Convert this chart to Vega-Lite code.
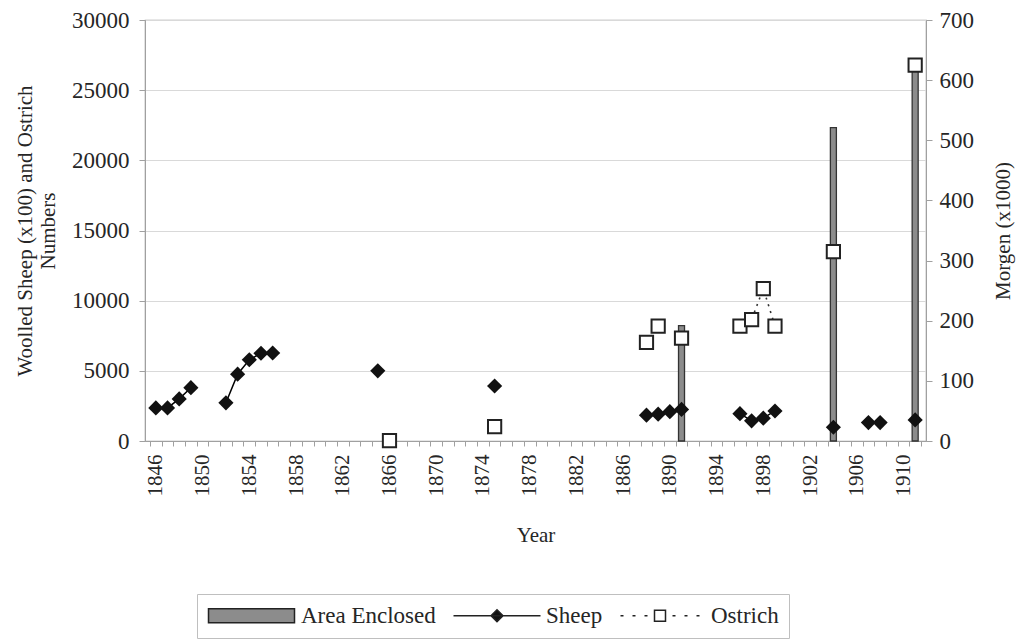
{
  "$schema": "https://vega.github.io/schema/vega-lite/v6.json",
  "width": 781,
  "height": 421,
  "autosize": {"type": "none"},
  "padding": {"left": 145, "top": 20, "right": 96, "bottom": 199},
  "background": "white",
  "config": {
    "font": "Liberation Serif",
    "view": {"stroke": "#a0a0a0", "strokeWidth": 1.2},
    "axis": {
      "labelFont": "Liberation Serif",
      "titleFont": "Liberation Serif",
      "labelFontSize": 21,
      "titleFontSize": 21,
      "labelColor": "#262626",
      "titleColor": "#262626",
      "titleFontWeight": "normal",
      "domainColor": "#a0a0a0",
      "tickColor": "#a0a0a0",
      "tickSize": 6,
      "gridColor": "#d9d9d9"
    }
  },
  "datasets": {
    "area": [
      {"year": 1891, "value": 192, "series": "Area Enclosed"},
      {"year": 1904, "value": 521, "series": "Area Enclosed"},
      {"year": 1911, "value": 630, "series": "Area Enclosed"}
    ],
    "sheep": [
      {"year": 1846, "value": 2360, "seg": "a"},
      {"year": 1847, "value": 2360, "seg": "a"},
      {"year": 1848, "value": 3000, "seg": "a"},
      {"year": 1849, "value": 3800, "seg": "a"},
      {"year": 1852, "value": 2720, "seg": "b"},
      {"year": 1853, "value": 4760, "seg": "b"},
      {"year": 1854, "value": 5790, "seg": "b"},
      {"year": 1855, "value": 6250, "seg": "b"},
      {"year": 1856, "value": 6270, "seg": "b"},
      {"year": 1865, "value": 5000, "seg": "c"},
      {"year": 1875, "value": 3920, "seg": "d"},
      {"year": 1888, "value": 1840, "seg": "e"},
      {"year": 1889, "value": 1910, "seg": "e"},
      {"year": 1890, "value": 2090, "seg": "e"},
      {"year": 1891, "value": 2250, "seg": "e"},
      {"year": 1896, "value": 1950, "seg": "f"},
      {"year": 1897, "value": 1440, "seg": "f"},
      {"year": 1898, "value": 1630, "seg": "f"},
      {"year": 1899, "value": 2140, "seg": "f"},
      {"year": 1904, "value": 980, "seg": "g"},
      {"year": 1907, "value": 1310, "seg": "h"},
      {"year": 1908, "value": 1310, "seg": "h"},
      {"year": 1911, "value": 1500, "seg": "i"}
    ],
    "ostrich": [
      {"year": 1866, "value": 30, "seg": "a"},
      {"year": 1875, "value": 1030, "seg": "b"},
      {"year": 1888, "value": 7020, "seg": "c"},
      {"year": 1889, "value": 8190, "seg": "c"},
      {"year": 1891, "value": 7330, "seg": "d"},
      {"year": 1896, "value": 8190, "seg": "e"},
      {"year": 1897, "value": 8650, "seg": "e"},
      {"year": 1898, "value": 10860, "seg": "e"},
      {"year": 1899, "value": 8190, "seg": "e"},
      {"year": 1904, "value": 13490, "seg": "f"},
      {"year": 1911, "value": 26790, "seg": "g"}
    ]
  },
  "encoding": {
    "x": {
      "field": "year",
      "type": "quantitative",
      "scale": {"domain": [1845.5, 1911.5], "nice": false, "zero": false},
      "axis": {
        "title": "Year",
        "values": [1845.5,1846.5,1847.5,1848.5,1849.5,1850.5,1851.5,1852.5,1853.5,1854.5,1855.5,1856.5,1857.5,1858.5,1859.5,1860.5,1861.5,1862.5,1863.5,1864.5,1865.5,1866.5,1867.5,1868.5,1869.5,1870.5,1871.5,1872.5,1873.5,1874.5,1875.5,1876.5,1877.5,1878.5,1879.5,1880.5,1881.5,1882.5,1883.5,1884.5,1885.5,1886.5,1887.5,1888.5,1889.5,1890.5,1891.5,1892.5,1893.5,1894.5,1895.5,1896.5,1897.5,1898.5,1899.5,1900.5,1901.5,1902.5,1903.5,1904.5,1905.5,1906.5,1907.5,1908.5,1909.5,1910.5,1911.5],
        "labelExpr": "(datum.value + 0.5 - 1846) % 4 === 0 ? '' + (datum.value + 0.5) : ''",
        "labelAngle": 270,
        "labelAlign": "right",
        "labelBaseline": "middle",
        "labelOffset": 5.9,
        "labelPadding": 8,
        "labelOverlap": false,
        "labelFlush": false,
        "grid": false,
        "tickSize": 5,
        "titlePadding": 28
      }
    }
  },
  "layer": [
    {
      "data": {"name": "area"},
      "mark": {"type": "bar", "width": 6, "stroke": "#333333", "strokeWidth": 1.3},
      "encoding": {
        "y": {
          "field": "value",
          "type": "quantitative",
          "scale": {"domain": [0, 700], "nice": false},
          "axis": {
            "orient": "right",
            "title": "Morgen (x1000)",
            "values": [0, 100, 200, 300, 400, 500, 600, 700],
            "grid": false,
            "titleAngle": 270,
            "titlePadding": 40,
            "labelPadding": 7,
            "labelFontSize": 23
          }
        },
        "color": {
          "field": "series",
          "type": "nominal",
          "scale": {"domain": ["Area Enclosed", "Sheep", "Ostrich"], "range": ["#8c8c8c", "#111111", "#ffffff"]},
          "legend": {
            "title": null,
            "orient": "none",
            "legendX": 52,
            "legendY": 574,
            "direction": "horizontal",
            "padding": 10,
            "strokeColor": "#bfbfbf",
            "fillColor": "white",
            "labelFont": "Liberation Serif",
            "labelFontSize": 23,
            "labelColor": "#262626",
            "labelLimit": 400,
            "symbolSize": 100,
            "symbolStrokeWidth": 1.5,
            "symbolStrokeColor": "#222222",
            "labelOffset": 71,
            "columnPadding": 14,
            "encode": {
              "symbols": {
                "update": {
                  "shape": {"signal": "datum.value === 'Area Enclosed' ? 'M-2,-1.4L15.2,-1.4L15.2,1.4L-2,1.4Z' : datum.value === 'Sheep' ? 'M-2,0L15.4,0M6.7,-1.2L7.9,0L6.7,1.2L5.5,0Z' : 'M-1.6,0L-1,0M0.8,0L1.4,0M3.2,0L3.8,0M5.2,-1.1L7.4,-1.1L7.4,1.1L5.2,1.1ZM8.8,0L9.4,0M11.2,0L11.8,0M13.6,0L14.2,0'"},
                  "fill": {"signal": "datum.value === 'Area Enclosed' ? '#8c8c8c' : datum.value === 'Sheep' ? '#111111' : '#ffffff'"},
                  "stroke": {"value": "#222222"},
                  "strokeWidth": {"value": 1.5},
                  "opacity": {"value": 1}
                }
              }
            }
          }
        }
      }
    },
    {
      "encoding": {
        "y": {
          "field": "value",
          "type": "quantitative",
          "scale": {"domain": [0, 30000], "nice": false},
          "axis": {
            "orient": "left",
            "title": ["Woolled Sheep (x100) and Ostrich", "Numbers"],
            "values": [0, 5000, 10000, 15000, 20000, 25000, 30000],
            "format": "d",
            "grid": true,
            "titlePadding": 13,
            "labelPadding": 10,
            "labelFontSize": 23
          }
        }
      },
      "layer": [
        {
          "data": {"name": "sheep"},
          "mark": {"type": "line", "stroke": "#000000", "strokeWidth": 1.5},
          "encoding": {"detail": {"field": "seg", "type": "nominal"}}
        },
        {
          "data": {"name": "ostrich"},
          "mark": {"type": "line", "stroke": "#333333", "strokeWidth": 1.6, "strokeDash": [2, 5]},
          "encoding": {"detail": {"field": "seg", "type": "nominal"}}
        },
        {
          "data": {"name": "sheep"},
          "mark": {"type": "point", "shape": "diamond", "filled": true, "fill": "#111111", "size": 230, "opacity": 1}
        },
        {
          "data": {"name": "ostrich"},
          "mark": {"type": "point", "shape": "square", "filled": true, "fill": "#ffffff", "stroke": "#222222", "strokeWidth": 2, "size": 175, "opacity": 1}
        }
      ]
    }
  ],
  "resolve": {"scale": {"y": "independent"}}
}
